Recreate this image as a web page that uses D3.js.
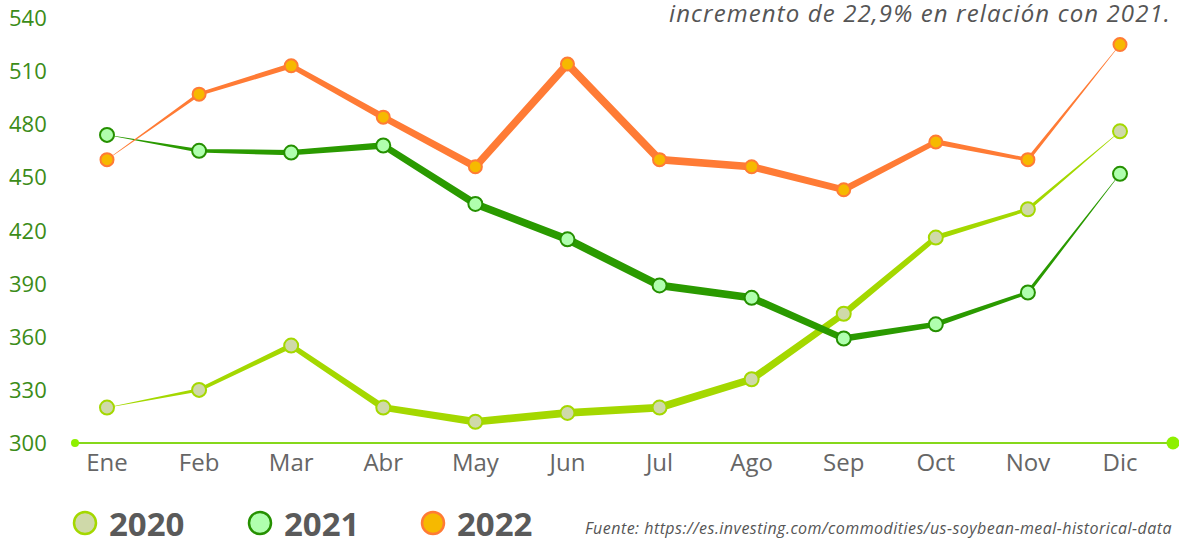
<!DOCTYPE html>
<html>
<head>
<meta charset="utf-8">
<script src="https://cdn.jsdelivr.net/npm/d3@7"></script>
<style>
  body { margin: 0; background: #fff; }
  svg { display: block; font-family: "Open Sans", "DejaVu Sans", sans-serif; }
</style>
</head>
<body>
<svg width="1179" height="541"></svg>
<script>
const months = ["Ene", "Feb", "Mar", "Abr", "May", "Jun", "Jul", "Ago", "Sep", "Oct", "Nov", "Dic"]
const yTicks = [300, 330, 360, 390, 420, 450, 480, 510, 540]
const values2020 = [320, 330, 355, 320, 312, 317, 320, 336, 373, 416, 432, 476]
const values2021 = [474, 465, 464, 468, 435, 415, 389, 382, 359, 367, 385, 452]
const values2022 = [460, 497, 513, 484, 456, 514, 460, 456, 443, 470, 460, 525]
const years = ["2020", "2021", "2022"]

const styles = {
    "2020": { line: "#a4d800", fill: "#cfd9a9", stroke: "#a4d800" },
    "2021": { line: "#2a9a00", fill: "#b0ffae", stroke: "#259000" },
    "2022": { line: "#ff7b35", fill: "#f6b900", stroke: "#ff7b35" }
}

const series = [
    { year: "2020", values: values2020 },
    { year: "2021", values: values2021 },
    { year: "2022", values: values2022 }
]

const svg = d3.select("svg")

const x = d3.scalePoint().domain(months).range([107, 1120])
const y = d3.scaleLinear().domain([300, 540]).range([443, 18])

// stroke width swells towards the middle of the year
const maxW = 7.5
const widthAt = i => maxW * Math.pow(Math.sin(Math.PI * i / (months.length - 1)), 0.7) + 0.4

// stretch a text to a target width with letter spacing (the original font is wider)
function fitWidth(sel, target) {
    sel.each(function () {
        const n = this.getNumberOfChars()
        const w = this.getComputedTextLength()
        if (n > 1) d3.select(this).attr("letter-spacing", (target - w) / n)
    })
}

// y labels
svg.append("g")
    .selectAll("text")
    .data(yTicks)
    .enter()
    .append("text")
    .attr("x", 9)
    .attr("y", d => y(d) + 8)
    .attr("fill", "#3c8c18")
    .style("font-size", "22px")
    .text(d => d)

// baseline axis
svg.append("line")
    .attr("x1", 75).attr("x2", 1173)
    .attr("y1", y(300)).attr("y2", y(300))
    .attr("stroke", "#86d81a")
    .attr("stroke-width", 2)
svg.append("circle").attr("cx", 75).attr("cy", y(300)).attr("r", 4).attr("fill", "#8ef000")
svg.append("circle").attr("cx", 1173).attr("cy", y(300)).attr("r", 6.5).attr("fill", "#8ef000")

// x labels
svg.append("g")
    .selectAll("text")
    .data(months)
    .enter()
    .append("text")
    .attr("x", d => x(d))
    .attr("y", 471)
    .attr("text-anchor", "middle")
    .attr("fill", "#666")
    .style("font-size", "24px")
    .text(d => d)

function taperedPath(pts) {
    const p = d3.path()
    for (let i = 0; i < pts.length - 1; i++) {
        const [x0, y0] = pts[i]
        const [x1, y1] = pts[i + 1]
        const len = Math.hypot(x1 - x0, y1 - y0)
        const nx = -(y1 - y0) / len
        const ny = (x1 - x0) / len
        const w0 = widthAt(i) / 2
        const w1 = widthAt(i + 1) / 2
        p.moveTo(x0 + nx * w0, y0 + ny * w0)
        p.lineTo(x1 + nx * w1, y1 + ny * w1)
        p.lineTo(x1 - nx * w1, y1 - ny * w1)
        p.lineTo(x0 - nx * w0, y0 - ny * w0)
        p.closePath()
        if (i > 0) {
            p.moveTo(x0 + w0, y0)
            p.arc(x0, y0, w0, 0, Math.PI * 2)
        }
    }
    return p.toString()
}

const plot = svg.append("g")

series.forEach(s => {
    const pts = s.values.map((v, i) => [x(months[i]), y(v)])
    plot.append("path")
        .attr("d", taperedPath(pts))
        .attr("fill", styles[s.year].line)
})

series.forEach(s => {
    plot.append("g")
        .selectAll("circle")
        .data(s.values)
        .enter()
        .append("circle")
        .attr("cx", (d, i) => x(months[i]))
        .attr("cy", d => y(d))
        .attr("r", s.year === "2022" ? 6.5 : 7)
        .attr("fill", styles[s.year].fill)
        .attr("stroke", styles[s.year].stroke)
        .attr("stroke-width", 2)
})

// subtitle line (top right)
svg.append("text")
    .attr("x", 1171)
    .attr("y", 22)
    .attr("text-anchor", "end")
    .attr("fill", "#555")
    .style("font-size", "24px")
    .style("font-style", "italic")
    .text("incremento de 22,9% en relación con 2021.")
    .call(fitWidth, 502)

// legend
const legendX = [85, 260, 433]
const legend = svg.append("g")
    .selectAll("g")
    .data(years)
    .enter()
    .append("g")
    .attr("transform", (d, i) => "translate(" + legendX[i] + ",523)")

legend.append("circle")
    .attr("r", 11)
    .attr("fill", d => styles[d].fill)
    .attr("stroke", d => styles[d].stroke)
    .attr("stroke-width", 2.5)

legend.append("text")
    .attr("x", 24)
    .attr("y", 13)
    .attr("fill", "#5a5a5a")
    .style("font-size", "33px")
    .style("font-weight", "bold")
    .text(d => d)

svg.append("text")
    .attr("x", 1172)
    .attr("y", 534)
    .attr("text-anchor", "end")
    .attr("fill", "#555")
    .style("font-size", "16px")
    .style("font-style", "italic")
    .text("Fuente: https://es.investing.com/commodities/us-soybean-meal-historical-data")
    .call(fitWidth, 587)
</script>
</body>
</html>
